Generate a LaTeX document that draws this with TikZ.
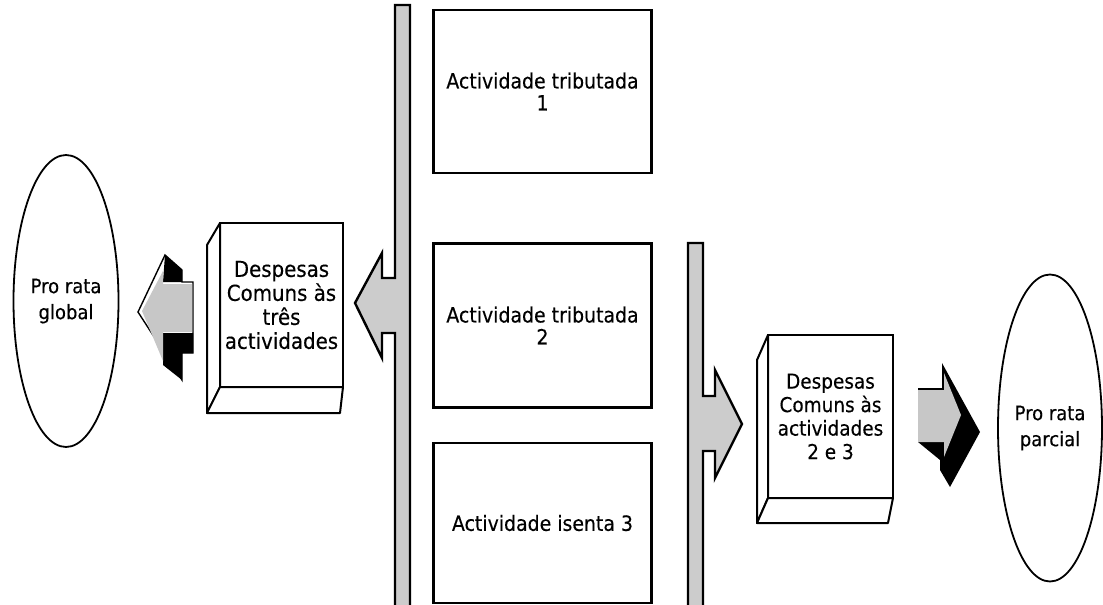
\documentclass[tikz,border=0pt]{standalone}
\usepackage{fontspec}
\setmainfont{DejaVu Sans}[FakeStretch=0.9, FakeBold=0.3]
\usetikzlibrary{shapes.geometric,calc}
\tikzset{
  actbox/.style={draw=black, line width=2.3pt, fill=white, minimum width=218pt, minimum height=163pt, align=center, outer sep=0pt, font=\fontsize{21}{22}\selectfont},
  frontface/.style={draw=black, line width=2pt, fill=white, align=center, outer sep=0pt, inner sep=2pt},
  sideface/.style={draw=black, line width=2pt, fill=white, line join=round},
  oval/.style={draw=black, line width=1.8pt, ellipse, align=center, inner sep=0pt, font=\fontsize{20}{26}\selectfont},
  barshape/.style={draw=black, line width=2.4pt, fill=black!20, line join=miter},
  shadefill/.style={fill=black!22},
  blackpart/.style={fill=black},
}
\begin{document}
\begin{tikzpicture}[x=1pt, y=-1pt]
\useasboundingbox (0,0) rectangle (1103,605);

% activity boxes
\node[actbox] (a1) at (542.5,91.5) {Actividade tributada\\1};
\node[actbox, minimum height=164pt] (a2) at (542.5,325.5) {Actividade tributada\\2};
\node[actbox, minimum height=160pt] (a3) at (542.5,523) {Actividade isenta 3};

% left bar with arrow
\draw[barshape] (395,5) -- (410,5) -- (410,612) -- (395,612) -- (395,333) -- (382,333) -- (382,358) -- (355,303) -- (382,253) -- (382,278) -- (395,278) -- cycle;

% right bar with arrow
\draw[barshape] (688,243) -- (703,243) -- (703,396) -- (715,396) -- (715,370) -- (742,424) -- (715,478) -- (715,451) -- (703,451) -- (703,612) -- (688,612) -- cycle;

% left 3D box
\node[frontface, minimum width=123pt, minimum height=164pt, font=\fontsize{22}{24}\selectfont] (d1) at (281.5,305) {Despesas\\Comuns às\\três\\actividades};
\draw[sideface] (d1.north west) -- ++(-13,22) -- ($(d1.south west)+(-13,26)$) -- (d1.south west) -- cycle;
\draw[sideface] (d1.south west) -- ++(-13,26) -- ($(d1.south east)+(-3,26)$) -- (d1.south east) -- cycle;

% right 3D box
\node[frontface, minimum width=125pt, minimum height=163pt, font=\fontsize{20.5}{23.5}\selectfont] (d2) at (830.5,416.5) {Despesas\\Comuns às\\actividades\\2 e 3};
\draw[sideface] (d2.north west) -- ++(-11,25) -- ($(d2.south west)+(-11,25)$) -- (d2.south west) -- cycle;
\draw[sideface] (d2.south west) -- ++(-11,25) -- ($(d2.south east)+(-5,25)$) -- (d2.south east) -- cycle;

% ellipses
\node[oval, minimum width=105pt, minimum height=292pt] (e1) at (66,301) {Pro rata\\global};
\node[oval, minimum width=104pt, minimum height=307pt] (e2) at (1050,428) {Pro rata\\parcial};

% left small 3D arrow
\draw[black, line width=1.4pt, fill=white, line join=miter] (138,312) -- (165,255) -- (182,270) -- (182,282) -- (193,282) -- (193,353) -- (182,353) -- (182,380) -- cycle;
\fill[blackpart] (165,255) -- (182,270) -- (182,282) -- (163,282) -- cycle;
\fill[blackpart] (163,333) -- (193,333) -- (193,353) -- (182,353) -- (182,380) -- (163,365) -- cycle;
\fill[shadefill] (142,311) -- (163,271) -- (163,284) -- (192,284) -- (192,332) -- (163,332) -- (163,361) -- cycle;

% right small 3D arrow
\fill[blackpart] (918,388) -- (942,388) -- (942,363) -- (980,432) -- (950,487) -- (940,470) -- (940,460) -- (918,442) -- cycle;
\fill[shadefill] (918,390) -- (944,390) -- (944,373) -- (961,415) -- (944,457) -- (944,442) -- (918,442) -- cycle;
\end{tikzpicture}
\end{document}
